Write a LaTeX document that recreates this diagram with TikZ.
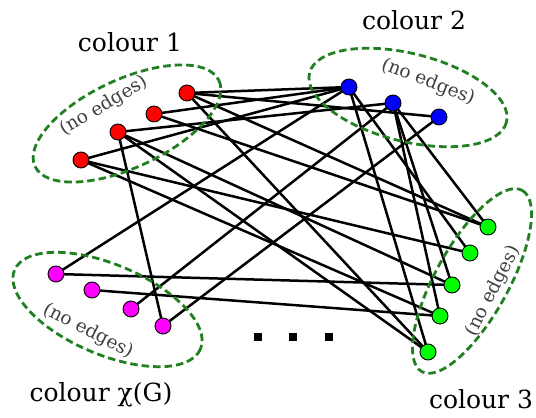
\documentclass[tikz,border=0pt]{standalone}
\usepackage{fontspec}
\setmainfont{DejaVu Serif}
\usetikzlibrary{backgrounds}
\definecolor{dgreen}{RGB}{34,128,34}
\definecolor{vred}{RGB}{255,0,0}
\definecolor{vblue}{RGB}{0,0,255}
\definecolor{vgreen}{RGB}{0,255,0}
\definecolor{vmag}{RGB}{255,0,255}
\begin{document}
\begin{tikzpicture}[x=1pt,y=-1pt,
  vtx/.style={circle,draw=black,line width=0.9pt,inner sep=0pt,minimum size=16pt},
  rv/.style={vtx,fill=vred},
  bv/.style={vtx,fill=vblue},
  gv/.style={vtx,fill=vgreen},
  mv/.style={vtx,fill=vmag},
  edge/.style={draw=black,line width=2.5pt},
  grp/.style={draw=dgreen,line width=2.8pt,dash pattern=on 7.5pt off 4pt},
  lbl/.style={font=\fontsize{25}{30}\selectfont,inner sep=0pt},
  noe/.style={font=\fontsize{18.5}{22}\selectfont,text=black!75,inner sep=0pt},
  dotsq/.style={fill=black,draw=none,minimum size=8pt,inner sep=0pt,rectangle}]
\useasboundingbox (0,0) rectangle (536,418);
% vertices
\node[rv] (r1) at (187,93) {};
\node[rv] (r2) at (154,114) {};
\node[rv] (r3) at (118,132) {};
\node[rv] (r4) at (81,160) {};
\node[bv] (b1) at (349,87) {};
\node[bv] (b2) at (393,103) {};
\node[bv] (b3) at (439,117) {};
\node[gv] (g1) at (488,227) {};
\node[gv] (g2) at (470,253) {};
\node[gv] (g3) at (452,285) {};
\node[gv] (g4) at (440,316) {};
\node[gv] (g5) at (428,352) {};
\node[mv] (m1) at (56,274) {};
\node[mv] (m2) at (92,290) {};
\node[mv] (m3) at (131,309) {};
\node[mv] (m4) at (163,326) {};
\begin{pgfonlayer}{background}
% edges
\foreach \a/\b in {r1/b1,r1/b3,r1/g1,r1/g5,r2/b1,r2/g1,r3/b2,r3/m4,r3/g3,r3/g5,
  r4/b1,r4/g2,r4/g4,m1/b1,m1/g3,m2/g4,m3/b2,m4/b3,b1/g5,b1/g2,b2/g3,b2/g1,b2/g4}
  \path[edge] (\a.center) -- (\b.center);
% groups
\draw[grp,rotate around={25:(127,123.5)}] (127,123.5) ellipse (101.5 and 44);
\draw[grp,rotate around={-14:(408,97.5)}] (408,97.5) ellipse (101.5 and 44);
\draw[grp,rotate around={61:(472,281)}] (472,281) ellipse (103.6 and 36.5);
\draw[grp,rotate around={-23:(107.5,309.5)}] (107.5,309.5) ellipse (101 and 45);
\end{pgfonlayer}
% labels
\node[lbl] (l1) at (130,42) {colour 1};
\node[lbl] (l2) at (414,20) {colour 2};
\node[lbl] (l3) at (481,399) {colour 3};
\node[lbl] (l4) at (101,395) {colour χ(G)};
\node[noe,rotate=31] (n1) at (104,106) {(no edges)};
\node[noe,rotate=-21] (n2) at (428,82) {(no edges)};
\node[noe,rotate=63] (n3) at (493,291) {(no edges)};
\node[noe,rotate=-27] (n4) at (88,331) {(no edges)};
% dots
\node[dotsq] (d1) at (258,337) {};
\node[dotsq] (d2) at (293,337) {};
\node[dotsq] (d3) at (329,337) {};
\end{tikzpicture}
\end{document}
